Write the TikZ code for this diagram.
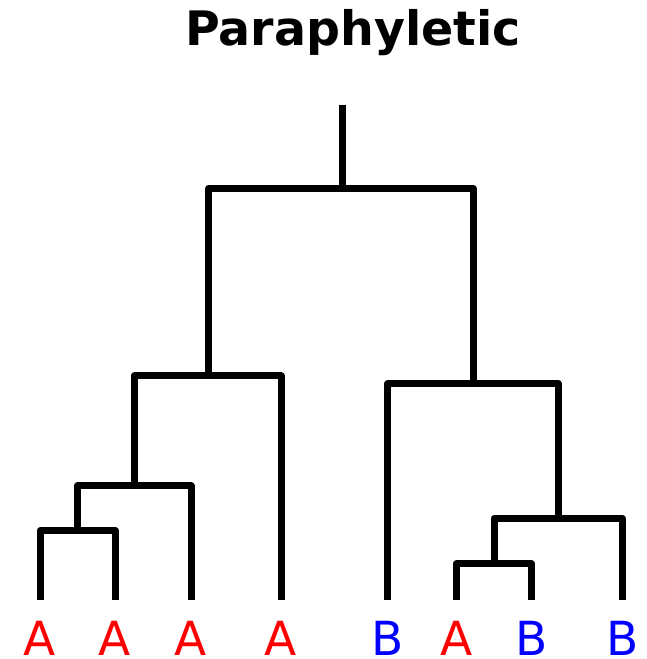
\documentclass[tikz,border=0pt]{standalone}
\usepackage{fontspec}
\setmainfont{DejaVu Sans}
\begin{document}
\begin{tikzpicture}[x=1pt,y=1pt,
  branch/.style={line width=7pt, line join=round, black},
  taxon/.style={anchor=base, inner sep=0pt, font=\fontsize{47}{47}\selectfont},
  groupA/.style={taxon, text={rgb,255:red,255;green,0;blue,0}},
  groupB/.style={taxon, text={rgb,255:red,0;green,0;blue,255}}]
\useasboundingbox (0,0) rectangle (647,659);

% title
\node[anchor=base, inner sep=0pt, font=\bfseries\fontsize{47.5}{47.5}\selectfont] (title) at (353,613.3) {Paraphyletic};

% leaf ends of the branches
\coordinate (l1) at (40,58.5);
\coordinate (l2) at (115,58.5);
\coordinate (l3) at (191,58.5);
\coordinate (l4) at (281,58.5);
\coordinate (l5) at (387.5,58.5);
\coordinate (l6) at (456.3,58.5);
\coordinate (l7) at (531.8,58.5);
\coordinate (l8) at (622.5,58.5);

% taxon labels
\node[groupA] (t1) at (40,3) {A};
\node[groupA] (t2) at (115,3) {A};
\node[groupA] (t3) at (191,3) {A};
\node[groupA] (t4) at (281,3) {A};
\node[groupB] (t5) at (387.5,3) {B};
\node[groupA] (t6) at (456.3,3) {A};
\node[groupB] (t7) at (531.8,3) {B};
\node[groupB] (t8) at (622.5,3) {B};

% internal nodes
\coordinate (n1) at (77.5,128.5);
\coordinate (n2) at (134.2,173);
\coordinate (n3) at (208.5,283);
\coordinate (n4) at (494,95);
\coordinate (n5) at (558.5,140.7);
\coordinate (n6) at (473,275);
\coordinate (root) at (342,470.5);
\coordinate (top) at (342,554);

% branches
\draw[branch] (l1) |- (n1) -| (l2);
\draw[branch] (n1) |- (n2) -| (l3);
\draw[branch] (n2) |- (n3) -| (l4);
\draw[branch] (l6) |- (n4) -| (l7);
\draw[branch] (n4) |- (n5) -| (l8);
\draw[branch] (l5) |- (n6) -| (n5);
\draw[branch] (n3) |- (root) -| (n6);
\draw[branch] (root) -- (top);
\end{tikzpicture}
\end{document}
